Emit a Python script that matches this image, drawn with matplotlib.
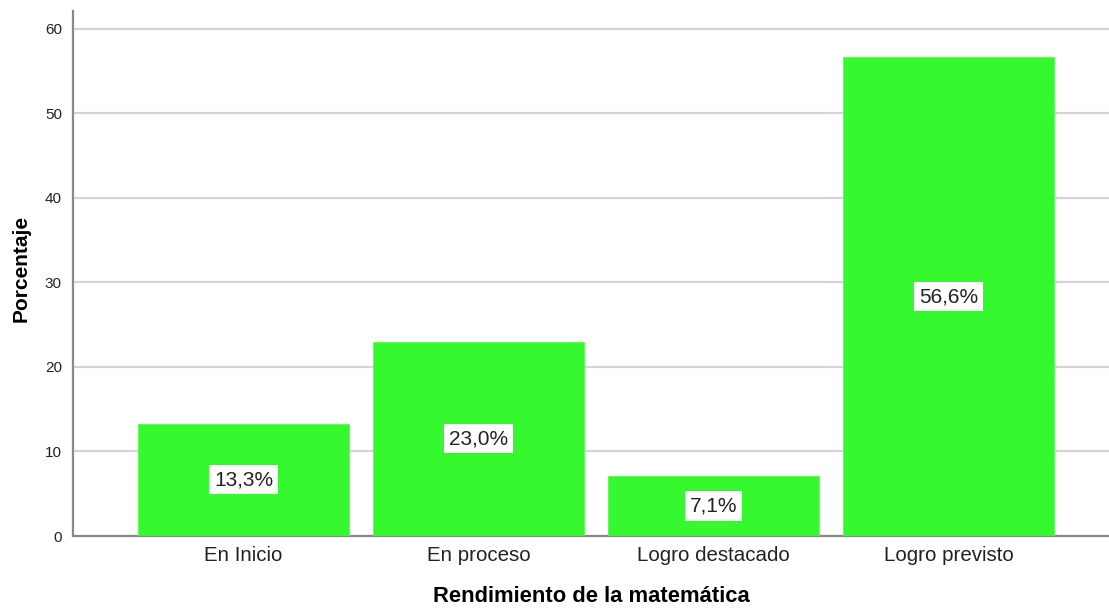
import matplotlib
matplotlib.use("Agg")
import matplotlib.pyplot as plt

plt.rcParams.update({
    'font.family': ['Liberation Sans', 'DejaVu Sans'],
    'text.color': '#222222',
})

categories = ["En Inicio", "En proceso", "Logro destacado", "Logro previsto"]
percentages = [13.3, 23.0, 7.1, 56.6]
value_labels = ["13,3%", "23,0%", "7,1%", "56,6%"]
y_ticks = [0, 10, 20, 30, 40, 50, 60]

BAR_COLOR = '#36f82e'

fig = plt.figure(figsize=(11.09, 6.09), dpi=100)
ax = fig.add_axes([73 / 1109, 1 - 536 / 609, 1 - 73 / 1109, (536 - 11) / 609])

x = list(range(len(categories)))
bars = ax.bar(x, percentages, width=0.898, color=BAR_COLOR,
              edgecolor='#5cfa55', linewidth=0.6, zorder=3)

for xi, val, lab in zip(x, percentages, value_labels):
    ax.text(xi, val / 2, lab, ha='center', va='center', fontsize=15,
            color='#222222', zorder=4,
            bbox=dict(boxstyle='square,pad=0.25', facecolor='white',
                      edgecolor='none'))

ax.set_xlim(-0.7255, 3.683)
ax.set_ylim(0, 62.1)
ax.set_yticks(y_ticks)
ax.set_yticklabels([str(t) for t in y_ticks], fontsize=11)
ax.set_xticks(x)
ax.set_xticklabels(categories, fontsize=14.8)
ax.tick_params(axis='both', length=0, colors='#222222')
ax.tick_params(axis='y', pad=8)
ax.tick_params(axis='x', pad=7)

ax.yaxis.grid(True, color='#d4d4d4', linewidth=1.6, zorder=0)
ax.set_axisbelow(True)
for side in ('top', 'right'):
    ax.spines[side].set_visible(False)
for side in ('left', 'bottom'):
    ax.spines[side].set_color('#888888')
    ax.spines[side].set_linewidth(1.6)

ax.set_xlabel("Rendimiento de la matemática", fontsize=15.8,
              fontweight='bold', labelpad=15)
ax.set_ylabel("Porcentaje", fontsize=15, fontweight='bold')
ax.yaxis.set_label_coords(-0.041, 0.51)

fig.savefig("out.png", dpi=100, facecolor='white')
